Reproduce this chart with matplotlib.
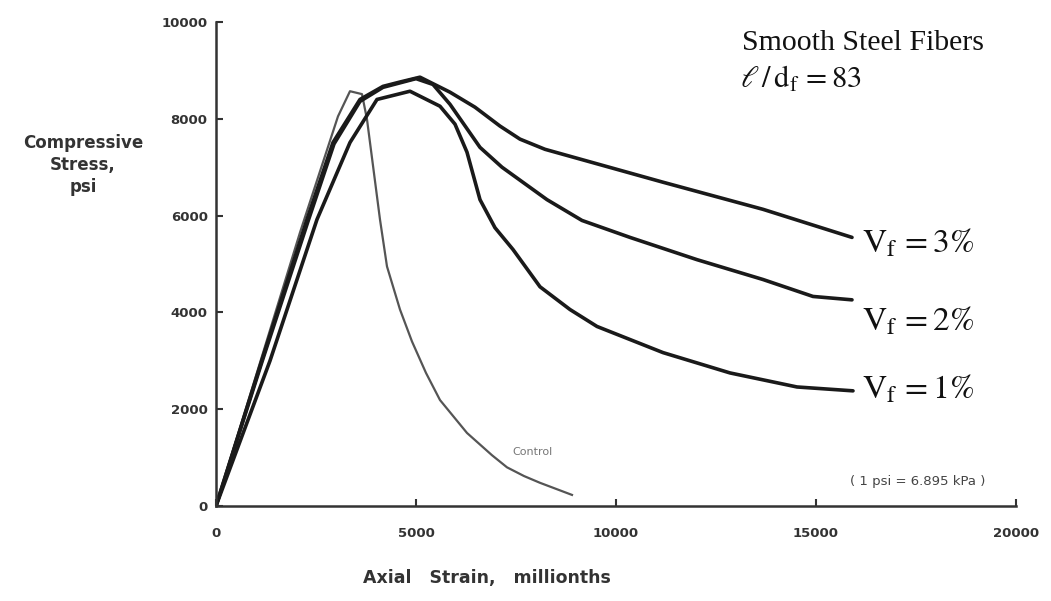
import matplotlib
matplotlib.use("Agg")
import matplotlib.pyplot as plt

# strain (millionths) / stress (psi)
vf3_strain = [0, 1150, 2275, 2925, 3600, 4175, 4600, 5100, 5850, 6475, 7100, 7600, 8225, 11175, 13675, 15900]
vf3_stress = [0, 3020, 5920, 7510, 8400, 8670, 8760, 8860, 8550, 8240, 7850, 7580, 7370, 6690, 6130, 5550]

vf2_strain = [0, 1150, 2300, 2950, 3600, 4175, 5000, 5425, 5850, 6600, 7150, 8275, 9150, 10350, 12025, 13675, 14925, 15900]
vf2_stress = [0, 2980, 5880, 7480, 8360, 8650, 8830, 8710, 8300, 7410, 7000, 6330, 5900, 5550, 5090, 4680, 4330, 4260]

vf1_strain = [0, 1350, 2525, 3350, 4025, 4850, 5600, 5975, 6275, 6600, 6975, 7425, 8100, 8850, 9525, 11175, 12850, 14525, 15925]
vf1_stress = [0, 3000, 5920, 7510, 8400, 8570, 8260, 7890, 7310, 6330, 5750, 5300, 4530, 4060, 3710, 3170, 2750, 2460, 2380]

ctrl_strain = [0, 2100, 3050, 3350, 3650, 3775, 4100, 4275, 4600, 4900, 5250, 5600, 6275, 6900, 7275, 7700, 8100, 8900]
ctrl_stress = [0, 5650, 8050, 8570, 8510, 7990, 5920, 4950, 4060, 3400, 2750, 2190, 1510, 1050, 800, 620, 480, 230]

x_ticks = [0, 5000, 10000, 15000, 20000]
y_ticks = [0, 2000, 4000, 6000, 8000, 10000]

plt.rcParams["mathtext.fontset"] = "stix"

fig = plt.figure(figsize=(10.51, 6.01), dpi=100)
ax = fig.add_axes([0.2055, 0.158, 0.7612, 0.8054])

ax.plot(ctrl_strain, ctrl_stress, color="#555555", lw=1.6, solid_joinstyle="round")
for xs, ys in [(vf1_strain, vf1_stress), (vf2_strain, vf2_stress), (vf3_strain, vf3_stress)]:
    ax.plot(xs, ys, color="#1a1a1a", lw=2.6, solid_joinstyle="round", solid_capstyle="round")

ax.set_xlim(0, 20000)
ax.set_ylim(0, 10000)
ax.set_xticks(x_ticks)
ax.set_yticks(y_ticks)
ax.spines["top"].set_visible(False)
ax.spines["right"].set_visible(False)
for s in ["left", "bottom"]:
    ax.spines[s].set_linewidth(1.8)
    ax.spines[s].set_color("#333333")
ax.tick_params(direction="in", length=5, width=1.5, color="#333333")
ax.tick_params(axis="x", pad=15, labelsize=9.5, labelcolor="#333333")
ax.tick_params(axis="y", pad=6, labelsize=9.5, labelcolor="#333333")
for lab in ax.get_xticklabels() + ax.get_yticklabels():
    lab.set_fontweight("bold")

fig.text(83 / 1051, 1 - 165 / 601, "Compressive\nStress,\npsi", ha="center", va="center",
         fontsize=12, fontweight="bold", color="#333333", linespacing=1.25)
fig.text(487 / 1051, 1 - 578 / 601, "Axial   Strain,   millionths", ha="center", va="center",
         fontsize=12.5, fontweight="bold", color="#333333")

ax.text(7400, 1120, "Control", fontsize=8, color="#777777", va="center")
ax.text(17550, 500, "( 1 psi = 6.895 kPa )", fontsize=9.5, color="#444444", ha="center", va="center")

ax.text(13150, 9420, "Smooth Steel Fibers", family="Liberation Serif", fontsize=21.5, color="#111111")
ax.text(13100, 8650, r"$\ell\,/\,\mathrm{d_f}\, = 83$", fontsize=22, color="#111111")

ax.text(16150, 5230, r"$\mathrm{V_f}\, = 3\%$", fontsize=24, color="#111111")
ax.text(16150, 3630, r"$\mathrm{V_f}\, = 2\%$", fontsize=24, color="#111111")
ax.text(16150, 2230, r"$\mathrm{V_f}\, = 1\%$", fontsize=24, color="#111111")

fig.savefig("out.png", dpi=100)
